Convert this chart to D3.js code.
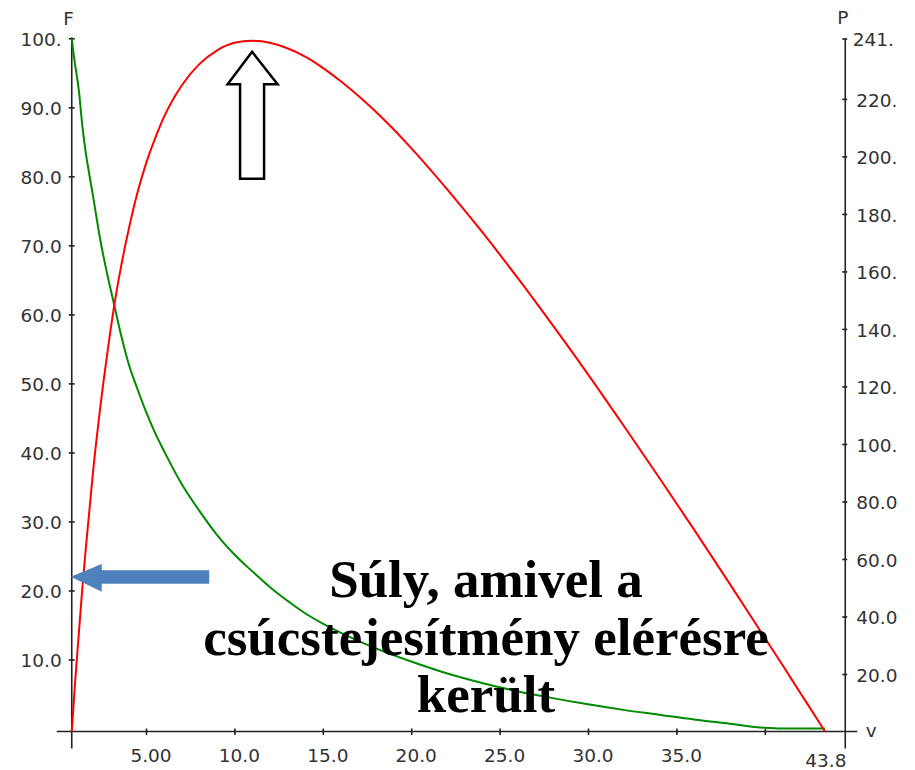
<!DOCTYPE html>
<html>
<head>
<meta charset="utf-8">
<script src="https://cdn.jsdelivr.net/npm/d3@7"></script>
<style>
  html, body { margin: 0; background: #ffffff; }
  svg { display: block; }
</style>
</head>
<body>
<svg id="chart" width="915" height="770"></svg>
<script>
// Shortening velocity v, with the load F (Hill curve) and the power P = F·v
const velocity = [0.8, 0.9, 1.0, 1.2, 1.4, 1.6, 1.8, 2.0, 2.4, 2.8, 3.2, 3.6, 4.0, 4.5, 5.0, 5.5, 6.0,
                  7, 8, 9, 10, 11, 12, 13, 14, 15, 16, 18, 20, 22, 24, 26, 28, 30, 32, 34, 36, 38,
                  40, 41, 42, 43, 43.4];
const force = [100, 97.8, 96.0, 92.5, 87.3, 83.3, 80.2, 77.2, 71.0, 65.9, 61.4, 56.9, 53.0, 49.3, 45.9, 42.9, 40.3,
               35.5, 31.6, 28.1, 25.2, 22.8, 20.5, 18.5, 16.7, 15.2, 13.9, 11.6, 9.7, 8.0, 6.6, 5.4, 4.4, 3.5, 2.7, 2.0, 1.3, 0.7,
               0.1, 0, 0, 0, 0];
const power = [0, 9, 18, 34, 50, 64, 77, 90, 112, 131, 148, 162, 174, 187, 197.5, 206, 213.5,
               224.5, 232, 236.8, 239.5, 240.2, 239.5, 237.6, 234.7, 230.8, 226.2, 215.5, 202.9, 188.8, 173.8, 157.9, 141.3, 124.2, 106.5, 88.5, 70.2, 51.5,
               32.6, 23.1, 13.5, 3.9, 0];

// Axis ticks
const velocityTicks = [5, 10, 15, 20, 25, 30, 35, 40];
const velocityLabelled = [5, 10, 15, 20, 25, 30, 35];
const velocityMax = 43.8;
const forceTicks = [10, 20, 30, 40, 50, 60, 70, 80, 90, 100];
const powerTicks = [20, 40, 60, 80, 100, 120, 140, 160, 180, 200, 220, 241];
const powerMax = 241;

// Load at which peak power is reached
const loadAtPeak = 22.0;
const noteLines = ["Súly, amivel a", "csúcstejesítmény elérésre", "került"];

// Numbers printed four characters wide: 5.00, 10.0, 100.
function fmt(v) {
  if (v >= 100) return Math.round(v) + ".";
  if (v >= 10) return v.toFixed(1);
  return v.toFixed(2);
}

const svg = d3.select("#chart");
svg.append("rect").attr("width", 915).attr("height", 770).attr("fill", "#ffffff");

const x = d3.scaleLinear().domain([0, velocityMax]).range([57.6, 832]);
const yF = d3.scaleLinear().domain([0, 100]).range([728.5, 38.3]);
const yP = d3.scaleLinear().domain([0, powerMax]).range([731.5, 38.5]);

const leftX = x(velocity[0]);
const rightX = x(44.55);
const baseY = yP(0);

const axisColor = "#222";
const labelFont = "DejaVu Sans, Verdana, sans-serif";
const labelColor = "#333";

// Axis lines
const axes = svg.append("g").attr("stroke", axisColor).attr("stroke-width", 1.6);
axes.append("line").attr("x1", leftX).attr("x2", leftX).attr("y1", yF(100) - 1).attr("y2", baseY + 17);
axes.append("line").attr("x1", rightX).attr("x2", rightX).attr("y1", yP(powerMax)).attr("y2", baseY + 17);
axes.append("line").attr("x1", leftX - 15).attr("x2", rightX + 12).attr("y1", baseY).attr("y2", baseY);

// Left axis: F
const gF = svg.append("g")
  .attr("transform", `translate(${leftX},0)`)
  .call(d3.axisLeft(yF).tickValues(forceTicks).tickFormat(fmt).tickSize(0).tickPadding(10));
gF.select(".domain").remove();
gF.selectAll(".tick line").attr("x1", -3).attr("x2", 3).attr("stroke", axisColor).attr("stroke-width", 1.6);
gF.selectAll(".tick text").attr("dy", "0.4em")
  .attr("font-family", labelFont).attr("font-size", 18.5).attr("fill", labelColor);

// Right axis: P
const gP = svg.append("g")
  .attr("transform", `translate(${rightX},0)`)
  .call(d3.axisRight(yP).tickValues(powerTicks).tickFormat(fmt).tickSize(0).tickPadding(11));
gP.select(".domain").remove();
gP.selectAll(".tick line").attr("x1", -3).attr("x2", 2).attr("stroke", axisColor).attr("stroke-width", 1.6);
gP.selectAll(".tick text").attr("dy", "0.4em")
  .attr("x", d => d === powerMax ? 7.5 : 11)
  .attr("font-family", labelFont).attr("font-size", 18.5).attr("fill", labelColor);

// Bottom axis: v
const gV = svg.append("g")
  .attr("transform", `translate(0,${baseY})`)
  .call(d3.axisBottom(x).tickValues(velocityTicks)
    .tickFormat(d => velocityLabelled.includes(d) ? fmt(d) : "")
    .tickSize(0));
gV.select(".domain").remove();
gV.selectAll(".tick line").attr("y1", -3).attr("y2", 3.5).attr("stroke", axisColor).attr("stroke-width", 1.6);
gV.selectAll(".tick text").attr("y", 30.5).attr("dy", 0).attr("dx", 4.5)
  .attr("font-family", labelFont).attr("font-size", 18.5).attr("fill", labelColor);

// End value of the velocity axis
svg.append("text")
  .attr("x", x(velocity[velocity.length - 1]) + 1).attr("y", baseY + 35.5)
  .attr("text-anchor", "middle")
  .attr("font-family", labelFont).attr("font-size", 18.5).attr("fill", labelColor)
  .text(fmt(velocityMax));

// Axis titles
const titles = [
  { t: "F", x: leftX - 8.5, y: 25, anchor: "start" },
  { t: "P", x: rightX - 8, y: 24, anchor: "start" },
  { t: "v", x: rightX + 26, y: baseY + 5.5, anchor: "middle" }
];
svg.selectAll("text.title").data(titles).join("text")
  .attr("class", "title")
  .attr("x", d => d.x).attr("y", d => d.y)
  .attr("text-anchor", d => d.anchor)
  .attr("font-family", labelFont).attr("font-size", 18.5).attr("fill", labelColor)
  .text(d => d.t);

// Curves
const pts = velocity.map((v, i) => ({ v, f: force[i], p: power[i] }));
const lineF = d3.line().x(d => x(d.v)).y(d => yF(d.f)).curve(d3.curveMonotoneX);
const lineP = d3.line().x(d => x(d.v)).y(d => yP(d.p)).curve(d3.curveMonotoneX);

svg.append("path").datum(pts).attr("d", lineF)
  .attr("fill", "none").attr("stroke", "#008a00").attr("stroke-width", 2);
svg.append("path").datum(pts).attr("d", lineP)
  .attr("fill", "none").attr("stroke", "#ff0000").attr("stroke-width", 2);

// Hollow arrow pointing at the power peak
const peak = pts.reduce((a, b) => (b.p > a.p ? b : a));
const tipX = x(peak.v), tipY = yP(peak.p) + 11;
const upArrow = [
  [tipX, tipY], [tipX + 25.5, tipY + 32.5], [tipX + 12, tipY + 32.5], [tipX + 12, tipY + 127],
  [tipX - 12, tipY + 127], [tipX - 12, tipY + 32.5], [tipX - 24.5, tipY + 32.5]
];
svg.append("polygon")
  .attr("points", upArrow.map(p => p.join(",")).join(" "))
  .attr("fill", "#ffffff").attr("stroke", "#000").attr("stroke-width", 2.5)
  .attr("stroke-linejoin", "miter");

// Note text
svg.append("g").selectAll("text").data(noteLines).join("text")
  .attr("x", 486).attr("y", (d, i) => 597 + i * 57.5)
  .attr("text-anchor", "middle")
  .attr("font-family", "Liberation Serif, Times New Roman, serif")
  .attr("font-weight", "bold").attr("font-size", 53).attr("fill", "#000")
  .text(d => d);

// Blue arrow pointing at the load on the F axis
const bx = leftX - 1, by = yF(loadAtPeak);
const leftArrow = [
  [bx, by], [bx + 31, by - 12.7], [bx + 31, by - 6.3], [bx + 138.5, by - 6.3],
  [bx + 138.5, by + 7], [bx + 31, by + 7], [bx + 31, by + 15]
];
svg.append("polygon")
  .attr("points", leftArrow.map(p => p.join(",")).join(" "))
  .attr("fill", "#4f81bd");
</script>
</body>
</html>
